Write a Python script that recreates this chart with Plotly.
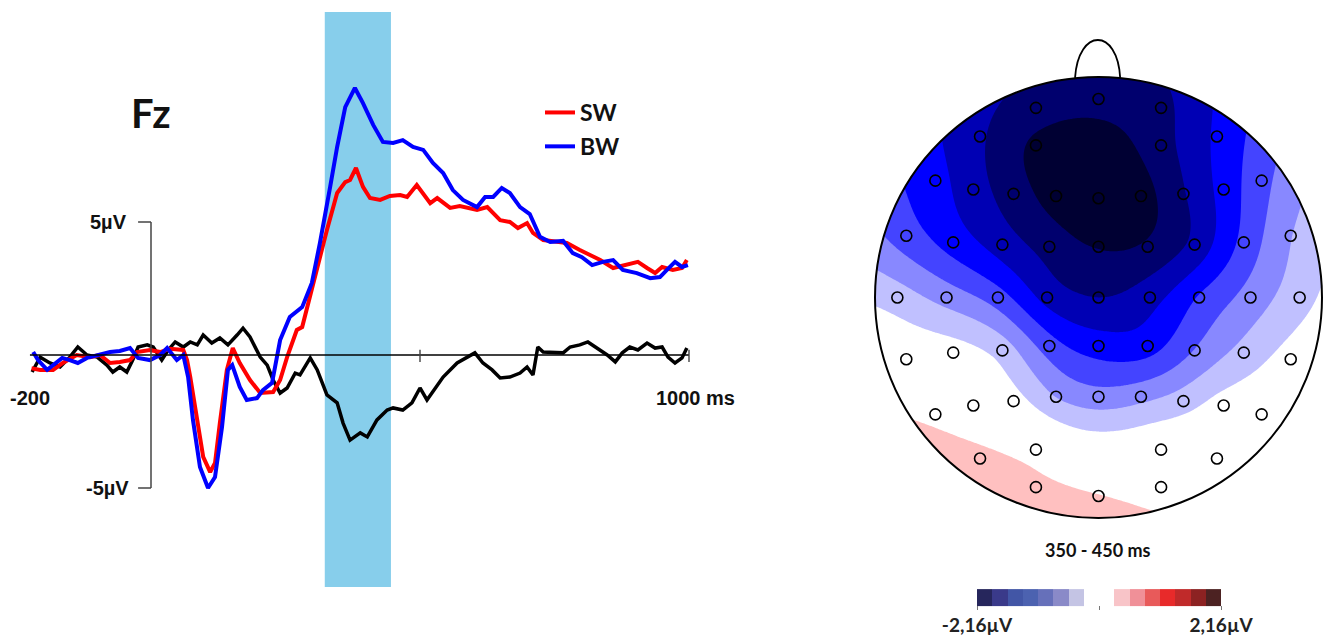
import numpy as np
import plotly.graph_objects as go

# ---------------- ERP data at Fz (time in ms, amplitude in µV) ----------------
sw_t = [-222, -206, -182, -164, -138, -113, -95, -76, -58, -39, -26, -2, 17, 35, 60, 67, 73, 86, 97, 110,
        119, 128, 141, 152, 165, 184, 203, 227, 240, 253, 271, 281, 292, 309, 327, 346, 361, 370, 381, 394,
        407, 426, 444, 463, 476, 494, 519, 532, 556, 574, 606, 625, 649, 667, 682, 699, 710, 729, 755, 773,
        797, 816, 835, 859, 885, 905, 922, 937, 950, 970, 987, 996]
sw_v = [-0.50, -0.56, -0.56, -0.30, 0.00, -0.08, 0.00, -0.30, -0.26, -0.19, 0.11, 0.19, 0.11, 0.23, 0.19, -0.19,
        -0.83, -2.44, -3.83, -4.40, -4.06, -2.56, -0.56, 0.26, -0.30, -0.94, -1.43, -1.39, -0.94, -0.08,
        0.94, 1.05, 1.95, 3.20, 4.70, 6.09, 6.50, 6.58, 7.03, 6.32, 5.90, 5.83, 5.98, 6.01, 5.94, 6.39,
        5.71, 5.90, 5.53, 5.60, 5.45, 5.56, 5.07, 5.00, 4.77, 4.96, 4.59, 4.32, 4.25, 4.21, 3.95, 3.76,
        3.57, 3.27, 3.38, 3.50, 3.27, 3.08, 3.31, 3.20, 3.27, 3.57]

bw_t = [-219, -210, -193, -182, -165, -151, -136, -119, -100, -76, -58, -39, -24, -2, 17, 30, 48, 60, 69, 78,
        91, 106, 119, 132, 143, 151, 165, 178, 197, 208, 225, 240, 258, 281, 299, 314, 333, 346, 361, 379,
        394, 413, 431, 450, 468, 487, 506, 524, 543, 561, 580, 606, 621, 636, 652, 667, 686, 704, 723, 742,
        766, 784, 801, 820, 840, 859, 877, 903, 928, 946, 959, 974, 987, 998]
bw_v = [0.11, -0.19, -0.56, -0.38, -0.11, -0.19, -0.30, -0.11, 0.00, 0.11, 0.15, 0.26, -0.11, -0.19, 0.00, 0.26,
        -0.19, 0.00, -0.83, -2.44, -4.21, -5.00, -4.59, -2.71, -0.56, -0.38, -1.20, -1.69, -1.62, -1.32,
        -1.05, 0.56, 1.43, 1.80, 2.71, 4.21, 6.32, 7.82, 9.32, 10.04, 9.47, 8.65, 8.01, 7.97, 8.08, 7.82,
        7.71, 7.22, 6.84, 6.20, 5.83, 5.56, 5.94, 5.94, 6.28, 6.09, 5.56, 5.30, 4.44, 4.25, 4.29, 3.83,
        3.68, 3.38, 3.50, 3.57, 3.20, 3.08, 2.89, 2.93, 3.20, 3.50, 3.31, 3.38]

diff_t = [-221, -206, -188, -169, -151, -136, -119, -100, -82, -71, -58, -45, -34, -24, -7, 4, 20, 32, 45, 60,
          73, 86, 97, 113, 128, 143, 160, 171, 184, 203, 216, 227, 240, 253, 268, 277, 296, 309, 327, 346,
          357, 370, 389, 402, 420, 439, 450, 468, 485, 500, 513, 543, 569, 587, 602, 617, 634, 649, 667, 686,
          699, 710, 719, 729, 747, 766, 779, 797, 812, 829, 848, 863, 876, 890, 905, 922, 937, 950, 961, 974,
          987, 996]
diff_v = [-0.64, -0.08, -0.30, -0.45, -0.08, 0.30, 0.00, -0.08, -0.38, -0.64, -0.45, -0.64, -0.19, 0.30, 0.38,
          0.30, -0.19, 0.19, 0.49, 0.30, 0.49, 0.38, 0.75, 0.45, 0.64, 0.38, 0.75, 1.01, 0.68, -0.08, -0.38,
          -0.94, -1.43, -1.24, -0.68, -0.75, -0.11, -0.56, -1.50, -1.80, -2.56, -3.20, -2.93, -3.08, -2.44,
          -2.07, -1.99, -2.07, -1.80, -1.24, -1.69, -0.83, -0.30, -0.11, 0.08, -0.30, -0.56, -0.86, -0.83,
          -0.68, -0.45, -0.75, 0.30, 0.11, 0.08, 0.08, 0.30, 0.38, 0.49, 0.26, 0.00, -0.26, 0.08, 0.30, 0.19,
          0.45, 0.26, 0.30, -0.08, -0.30, -0.11, 0.26]

series_names = ["SW", "BW"]
window_ms = [323, 446]           # highlighted analysis window on the ERP panel
y_ticks_uv = [5, -5]
x_tick_ms = [500, 1000]

# ---------------- Topographic map (350-450 ms), electrode positions (head radius = 1) ----------------
elec_u = [0.00, -0.28, 0.28, -0.53, 0.53, -0.28, 0.28, -0.73, 0.73,
          -0.56, -0.38, -0.19, 0.00, 0.19, 0.38, 0.56,
          -0.86, -0.65, -0.43, -0.22, 0.00, 0.22, 0.43, 0.65, 0.86,
          -0.90, -0.68, -0.45, -0.23, 0.00, 0.23, 0.45, 0.68, 0.90,
          -0.86, -0.65, -0.43, -0.22, 0.00, 0.22, 0.43, 0.65, 0.86,
          -0.73, -0.56, -0.38, -0.19, 0.00, 0.19, 0.38, 0.56, 0.73,
          -0.28, 0.28, -0.53, 0.53, -0.28, 0.28, 0.00]
elec_v = [0.90, 0.86, 0.86, 0.73, 0.73, 0.69, 0.69, 0.53, 0.53,
          0.49, 0.47, 0.46, 0.45, 0.46, 0.47, 0.49,
          0.28, 0.25, 0.24, 0.23, 0.23, 0.23, 0.24, 0.25, 0.28,
          0.00, 0.00, 0.00, 0.00, 0.00, 0.00, 0.00, 0.00, 0.00,
          -0.28, -0.25, -0.24, -0.22, -0.22, -0.22, -0.24, -0.25, -0.28,
          -0.53, -0.49, -0.47, -0.45, -0.45, -0.45, -0.47, -0.49, -0.53,
          -0.69, -0.69, -0.73, -0.73, -0.86, -0.86, -0.90]
elec_val = [-1.80, -1.75, -1.70, -1.58, -1.30, -1.95, -1.72, -1.25, -0.90,
            -1.50, -1.75, -2.00, -2.10, -2.00, -1.64, -1.25,
            -0.95, -1.20, -1.48, -1.72, -1.90, -1.85, -1.55, -1.00, -0.55,
            -0.40, -0.65, -0.95, -1.45, -1.62, -1.45, -1.05, -0.70, -0.38,
            -0.05, -0.15, -0.38, -0.95, -1.20, -1.20, -0.80, -0.45, -0.15,
            0.20, 0.05, -0.15, -0.55, -0.70, -0.62, -0.40, -0.15, -0.05,
            0.15, 0.00, 0.35, 0.00, 0.35, 0.15, 0.28]

scale_limit = 2.16               # µV, ends of the colour scale
level_step = 0.27                # µV between contour levels
map_colors = ["#000033", "#00006e", "#0000b4", "#0000ff", "#4444ff", "#8888ff", "#c0c0ff", "#ffffff",
              "#ffffff", "#ffc0c0", "#ff8888", "#ff4444", "#ff0000", "#b40000", "#6e0000", "#330000"]
bar_colors = ["#26265c", "#3a3a8a", "#4256a6", "#4c62b0", "#6670ba", "#8a8ac8", "#c4c4e4", "#ffffff",
              "#ffffff", "#f8c4c8", "#f09098", "#e85a5a", "#e82a2a", "#c02a2a", "#8c2222", "#4c2222"]
window_label = "350 - 450 ms"
channel = "Fz"

# ---------------- interpolation of the scalp field (thin-plate spline) ----------------
eu, ev, ez = np.array(elec_u), np.array(elec_v), np.array(elec_val)
n = len(eu)


def tps_kernel(r):
    with np.errstate(divide="ignore", invalid="ignore"):
        return np.where(r > 0, r ** 2 * np.log(r), 0.0)


K = tps_kernel(np.hypot(eu[:, None] - eu[None, :], ev[:, None] - ev[None, :])) + 0.002 * np.eye(n)
P = np.column_stack([np.ones(n), eu, ev])
A = np.zeros((n + 3, n + 3))
A[:n, :n], A[:n, n:], A[n:, :n] = K, P, P.T
sol = np.linalg.solve(A, np.concatenate([ez, np.zeros(3)]))
w, a = sol[:n], sol[n:]
gx = np.linspace(-1, 1, 241)
gy = np.linspace(-1, 1, 241)
GX, GY = np.meshgrid(gx, gy)
Z = a[0] + a[1] * GX + a[2] * GY
for i in range(n):
    Z += w[i] * tps_kernel(np.hypot(GX - eu[i], GY - ev[i]))

# ---------------- figure geometry (pixels) ----------------
W, H = 1326, 637


def fx(p):
    return p / W


def fy(p):
    return 1 - p / H


ms_px = 0.538          # pixels per ms
t0_px = 151            # pixel column of t = 0
uv_px = 26.6           # pixels per µV
v0_px = 355            # pixel row of 0 µV
erp_right = 740

head_cx, head_cy, head_rx, head_ry = 1098.5, 297.5, 223.5, 220.5
map_left, map_right, map_top, map_bottom = 865, 1326, 30, 530

fig = go.Figure()

label_font = dict(family="Liberation Sans, Arial", size=20, color="#111", weight="bold")
calib_font = dict(family="Lato", size=23, color="#111", weight="bold")

fig.add_trace(go.Scatter(x=diff_t, y=diff_v, mode="lines", line=dict(color="black", width=3.5),
                         showlegend=False, hoverinfo="skip", xaxis="x", yaxis="y"))
fig.add_trace(go.Scatter(x=sw_t, y=sw_v, mode="lines", name=series_names[0],
                         line=dict(color="#ff0000", width=4), legendgroup="a", xaxis="x", yaxis="y"))
fig.add_trace(go.Scatter(x=bw_t, y=bw_v, mode="lines", name=series_names[1],
                         line=dict(color="#0000ff", width=4), legendgroup="b", xaxis="x", yaxis="y"))

fig.add_trace(go.Contour(
    x=gx, y=gy, z=Z, xaxis="x2", yaxis="y2", showscale=False, hoverinfo="skip",
    autocontour=False,
    contours=dict(start=-scale_limit + level_step, end=scale_limit - level_step, size=level_step,
                  coloring="fill", showlines=False),
    line=dict(width=0),
    colorscale=[[i / (len(map_colors) - 1), c] for i, c in enumerate(map_colors)],
))

# colour scale carrier (draws the horizontal colour bar)
nb = len(bar_colors)
bar_scale = []
for i, c in enumerate(bar_colors):
    bar_scale += [[i / nb, c], [(i + 1) / nb, c]]
fig.add_trace(go.Scatter(
    x=elec_u, y=elec_v, mode="markers", xaxis="x2", yaxis="y2", showlegend=False, hoverinfo="skip",
    marker=dict(color=elec_val, colorscale=bar_scale, cmin=-scale_limit, cmax=scale_limit, opacity=0,
                size=1, showscale=True,
                colorbar=dict(orientation="h", x=fx(1099), xanchor="center", y=fy(613), yanchor="middle",
                              thickness=17, thicknessmode="pixels", len=244, lenmode="pixels",
                              xpad=0, ypad=0, outlinewidth=0, tickmode="array",
                              tickvals=[-scale_limit, 0, scale_limit],
                              ticktext=[f"-{scale_limit:.2f}".replace(".", ",") + "µV", "",
                                        f"{scale_limit:.2f}".replace(".", ",") + "µV"],
                              ticks="outside", ticklen=4, tickcolor="#777",
                              tickfont=dict(family="Lato", size=19, color="#222", weight="bold")))))

# electrodes
fig.add_trace(go.Scatter(x=elec_u, y=elec_v, mode="markers", xaxis="x2", yaxis="y2", showlegend=False,
                         hoverinfo="skip",
                         marker=dict(symbol="circle", size=11, color="rgba(0,0,0,0)",
                                     line=dict(color="black", width=1.6))))

shapes = []
# highlighted window
shapes.append(dict(type="rect", xref="x", yref="paper", x0=window_ms[0], x1=window_ms[1],
                   y0=fy(587), y1=fy(12), fillcolor="#87ceeb", line=dict(width=0), layer="below"))
# axes of the ERP panel
t_start = min(sw_t + bw_t + diff_t) - 3
shapes.append(dict(type="line", xref="x", yref="y", x0=t_start, x1=1000, y0=0, y1=0,
                   line=dict(color="black", width=1.4)))
shapes.append(dict(type="line", xref="x", yref="y", x0=0, x1=0, y0=y_ticks_uv[1], y1=y_ticks_uv[0],
                   line=dict(color="#444", width=1.5)))
for yt in y_ticks_uv:
    shapes.append(dict(type="line", xref="x", yref="y", x0=-24, x1=0, y0=yt, y1=yt,
                       line=dict(color="#444", width=1.5)))
for xt in x_tick_ms:
    shapes.append(dict(type="line", xref="x", yref="y", x0=xt, x1=xt, y0=0.2, y1=-0.26,
                       line=dict(color="#444", width=1.4)))

# head mask outside the scalp, head outline, nose
k = 0.5523
circ = (f"M 1,0 C 1,{k} {k},1 0,1 C {-k},1 -1,{k} -1,0 C -1,{-k} {-k},-1 0,-1 C {k},-1 1,{-k} 1,0 Z")
shapes.append(dict(type="path", xref="x2", yref="y2",
                   path="M -1.05,-1.05 H 1.05 V 1.05 H -1.05 Z " + circ,
                   fillcolor="white", fillrule="evenodd", line=dict(width=0), layer="above"))
shapes.append(dict(type="circle", xref="x2", yref="y2", x0=-1, x1=1, y0=-1, y1=1,
                   line=dict(color="black", width=2), layer="above"))
shapes.append(dict(type="path", xref="x2", yref="y2",
                   path="M -0.105,0.996 C -0.09,1.225 0.085,1.225 0.097,0.996",
                   line=dict(color="black", width=1.8), layer="above"))

annotations = [
    dict(text=channel, xref="paper", yref="paper", x=fx(151), y=fy(113), xanchor="center", yanchor="middle",
         showarrow=False, font=dict(family="Lato", size=40, color="#111", weight="bold")),
    dict(text=f"{y_ticks_uv[0]}µV", xref="x", yref="y", x=0, y=y_ticks_uv[0], xanchor="right",
         yanchor="middle", xshift=-22, showarrow=False, font=label_font),
    dict(text=f"{y_ticks_uv[1]}µV", xref="x", yref="y", x=0, y=y_ticks_uv[1], xanchor="right",
         yanchor="middle", xshift=-20, showarrow=False, font=label_font),
    dict(text="-200", xref="x", yref="y", x=t_start, y=0, yshift=-43, xanchor="center", yanchor="middle",
         showarrow=False, font=label_font),
    dict(text="1000 ms", xref="x", yref="y", x=1000, y=0, yshift=-43, xshift=6, xanchor="center",
         yanchor="middle", showarrow=False, font=label_font),
    dict(text=window_label, xref="paper", yref="paper", x=fx(1098), y=fy(550), xanchor="center",
         yanchor="middle", showarrow=False, font=dict(family="Lato", size=18, color="#111", weight="bold")),
]

fig.update_layout(
    width=W, height=H, autosize=False, margin=dict(l=0, r=0, t=0, b=0),
    paper_bgcolor="white", plot_bgcolor="rgba(0,0,0,0)",
    xaxis=dict(domain=[0, fx(erp_right)], range=[(0 - t0_px) / ms_px, (erp_right - t0_px) / ms_px],
               visible=False, fixedrange=True),
    yaxis=dict(domain=[0, 1], range=[(v0_px - H) / uv_px, v0_px / uv_px], visible=False, fixedrange=True),
    xaxis2=dict(domain=[fx(map_left), fx(map_right)], anchor="y2",
                range=[(map_left - head_cx) / head_rx, (map_right - head_cx) / head_rx],
                visible=False, fixedrange=True),
    yaxis2=dict(domain=[fy(map_bottom), fy(map_top)], anchor="x2",
                range=[(head_cy - map_bottom) / head_ry, (head_cy - map_top) / head_ry],
                visible=False, fixedrange=True),
    shapes=shapes, annotations=annotations,
    showlegend=True,
    legend=dict(x=fx(540), y=fy(91), xanchor="left", yanchor="top", bgcolor="rgba(0,0,0,0)",
                font=calib_font, tracegroupgap=1, itemwidth=30),
)

fig.write_html("out.html", config={"displayModeBar": False},
               post_script="document.body.style.margin='0px';document.body.style.overflow='hidden';")
